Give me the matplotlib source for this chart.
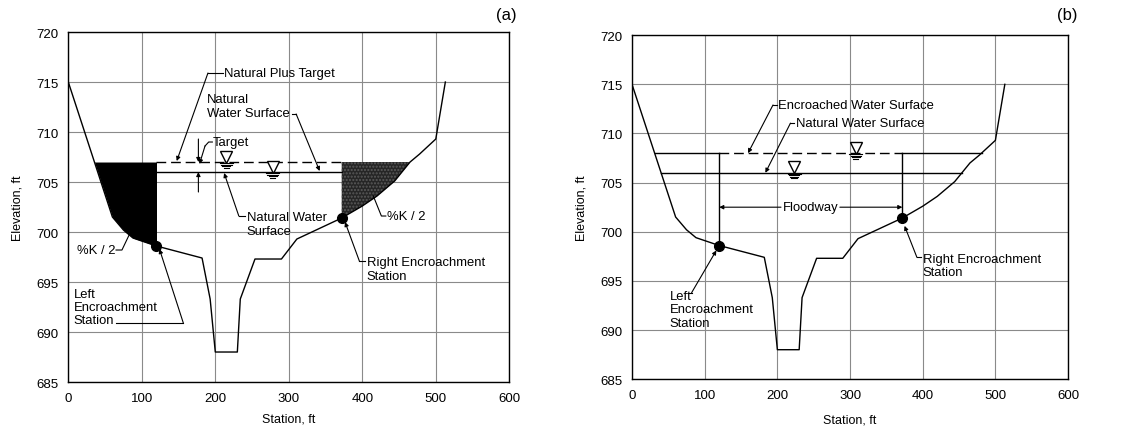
import numpy as np
import matplotlib
matplotlib.use("Agg")
import matplotlib.pyplot as plt

plt.rcParams['font.family'] = ['Liberation Sans', 'DejaVu Sans']

# ---- data ----
station = [0, 60, 75, 88, 120, 182, 193, 200, 230, 234, 254, 290, 311, 372, 400, 420, 444, 465, 478, 500, 513]
elevation = [715, 701.5, 700.2, 699.4, 698.6, 697.4, 693.3, 688, 688, 693.3, 697.3, 697.3, 699.3, 701.4, 702.6, 703.6, 705.1, 707.0, 707.8, 709.3, 715]
left_enc_sta = 120
right_enc_sta = 372
natural_ws = 706.0
target = 1.0
encroached_ws = 708.0
x_ticks = [0, 100, 200, 300, 400, 500, 600]
y_ticks = [685, 690, 695, 700, 705, 710, 715, 720]

st = np.array(station, float)
el = np.array(elevation, float)
imin = int(np.argmin(el))


def terrain_at(x):
    return np.interp(x, st, el)


def left_cross(z):
    return np.interp(z, el[:imin + 1][::-1], st[:imin + 1][::-1])


def right_cross(z):
    return np.interp(z, el[imin:], st[imin:])


fig = plt.figure(figsize=(11.27, 4.35), dpi=100)
axA = fig.add_axes([0.0606, 0.1195, 0.3913, 0.8046])
axB = fig.add_axes([0.5608, 0.126, 0.3869, 0.7908])

TXT = dict(fontsize=9.4, color='black')
AP = dict(arrowstyle='-|>', color='black', lw=0.8, mutation_scale=6, shrinkA=0, shrinkB=0)
DASH = (0, (7, 3.5))


def leader(ax, pts, arrow=True):
    xs = [p[0] for p in pts]
    ys = [p[1] for p in pts]
    if arrow:
        ax.plot(xs[:-1], ys[:-1], color='black', lw=0.8)
        ax.annotate('', xy=pts[-1], xytext=pts[-2], arrowprops=AP)
    else:
        ax.plot(xs, ys, color='black', lw=0.8)


def ws_symbol(ax, x, y, w=9):
    ax.plot([x], [y + 0.55], marker='v', ms=9, mfc='white', mec='black', mew=1.0, zorder=5)
    for i, f in enumerate([1.0, 0.8, 0.6, 0.4]):
        yy = y - 0.12 - 0.15 * i
        ax.plot([x - w * f, x + w * f], [yy, yy], color='black', lw=0.8, zorder=5)


def base(ax, xpad):
    ax.set_xlim(0, 600)
    ax.set_ylim(685, 720)
    ax.set_xticks(x_ticks)
    ax.set_yticks(y_ticks)
    ax.tick_params(length=0, labelsize=9.5, pad=7)
    ax.grid(True, color='#8a8a8a', lw=0.8)
    ax.set_axisbelow(True)
    for s in ax.spines.values():
        s.set_linewidth(1.0)
    ax.set_xlabel('Station, ft', fontsize=9, labelpad=xpad)
    ax.set_ylabel('Elevation, ft', fontsize=9, labelpad=9)
    ax.plot(st, el, color='black', lw=1.0, zorder=3)


# ---- panel (a) ----
base(axA, 6)
top_a = natural_ws + target
xl = left_cross(top_a)
xsL = np.concatenate([[xl], st[(st > xl) & (st < left_enc_sta)], [left_enc_sta]])
axA.fill_between(xsL, terrain_at(xsL), top_a, color='black', lw=0, zorder=2)
xr = right_cross(top_a)
xsR = np.concatenate([[right_enc_sta], st[(st > right_enc_sta) & (st < xr)], [xr]])
axA.fill_between(xsR, terrain_at(xsR), top_a, facecolor='#262626', edgecolor='#5a5a5a',
                 hatch='.....', lw=0, zorder=2)
axA.plot([left_enc_sta, right_enc_sta], [top_a, top_a], color='black', lw=1.0,
         ls=DASH, zorder=3)
axA.plot([left_enc_sta, right_enc_sta], [natural_ws, natural_ws], color='black', lw=1.0, zorder=3)
axA.plot([left_enc_sta, right_enc_sta], [terrain_at(left_enc_sta), terrain_at(right_enc_sta)],
         ls='none', marker='o', ms=7, color='black', zorder=6)
ws_symbol(axA, 215, top_a)
ws_symbol(axA, 278, natural_ws)
# target arrows
axA.annotate('', xy=(177, top_a), xytext=(177, 709.3), arrowprops=AP)
axA.annotate('', xy=(177, natural_ws), xytext=(177, 704.0), arrowprops=AP)

axA.text(212, 715.9, 'Natural Plus Target', va='center', ha='left', **TXT)
leader(axA, [(210, 715.9), (190, 715.9), (147.5, 707.1)])
axA.text(189, 712.6, 'Natural\nWater Surface', va='center', ha='left', linespacing=1.15, **TXT)
leader(axA, [(304, 711.8), (310, 711.8), (342, 706.1)])
axA.text(197, 709.0, 'Target', va='center', ha='left', **TXT)
leader(axA, [(196, 709.0), (191, 709.0), (186, 708.6), (178.5, 706.8)])
axA.text(243, 700.8, 'Natural Water\nSurface', va='center', ha='left', linespacing=1.15, **TXT)
leader(axA, [(241, 701.6), (232, 701.6), (212, 705.9)])
axA.text(434, 701.6, '%K / 2', va='center', ha='left', **TXT)
leader(axA, [(432, 701.6), (426, 701.6), (415, 703.6)], arrow=False)
axA.text(12, 698.2, '%K / 2', va='center', ha='left', **TXT)
leader(axA, [(65, 698.2), (73, 698.2), (84, 699.9)], arrow=False)
axA.text(406, 696.3, 'Right Encroachment\nStation', va='center', ha='left', linespacing=1.15, **TXT)
leader(axA, [(404, 697.1), (396, 697.1), (376.5, 701.0)])
axA.text(7, 692.5, 'Left\nEncroachment\nStation', va='center', ha='left', linespacing=1.15, **TXT)
leader(axA, [(65, 690.9), (156.5, 690.9), (124, 698.3)])
fig.text(0.44, 0.965, '(a)', fontsize=12, ha='left', va='center')

# ---- panel (b) ----
base(axB, 9)
xle = left_cross(encroached_ws)
xre = right_cross(encroached_ws)
axB.plot([xle, left_enc_sta], [encroached_ws] * 2, color='black', lw=1.0, zorder=3)
axB.plot([left_enc_sta, right_enc_sta], [encroached_ws] * 2, color='black', lw=1.0,
         ls=DASH, zorder=3)
axB.plot([right_enc_sta, xre], [encroached_ws] * 2, color='black', lw=1.0, zorder=3)
axB.plot([left_cross(natural_ws), right_cross(natural_ws)], [natural_ws] * 2,
         color='black', lw=1.0, zorder=3)
for s_ in (left_enc_sta, right_enc_sta):
    axB.plot([s_, s_], [encroached_ws, terrain_at(s_)], color='black', lw=1.0, zorder=3)
axB.plot([left_enc_sta, right_enc_sta], [terrain_at(left_enc_sta), terrain_at(right_enc_sta)],
         ls='none', marker='o', ms=7, color='black', zorder=6)
ws_symbol(axB, 223, natural_ws)
ws_symbol(axB, 308, encroached_ws)
# floodway
axB.annotate('', xy=(left_enc_sta, 702.5), xytext=(205, 702.5), arrowprops=AP)
axB.annotate('', xy=(right_enc_sta, 702.5), xytext=(286, 702.5), arrowprops=AP)
axB.text(245.5, 702.5, 'Floodway', ha='center', va='center', **TXT)

axB.text(201, 712.9, 'Encroached Water Surface', va='center', ha='left', **TXT)
leader(axB, [(199, 712.9), (194, 712.9), (159.6, 708.0)])
axB.text(225, 711.05, 'Natural Water Surface', va='center', ha='left', **TXT)
leader(axB, [(223, 711.05), (218, 711.05), (183.5, 706.0)])
axB.text(52, 692.1, 'Left\nEncroachment\nStation', va='center', ha='left', linespacing=1.15, **TXT)
leader(axB, [(77, 693.8), (82, 693.8), (116, 698.1)])
axB.text(400, 696.6, 'Right Encroachment\nStation', va='center', ha='left', linespacing=1.15, **TXT)
leader(axB, [(398, 697.4), (392, 697.4), (375, 700.6)])
fig.text(0.938, 0.965, '(b)', fontsize=12, ha='left', va='center')

fig.savefig('out.png', dpi=100)
